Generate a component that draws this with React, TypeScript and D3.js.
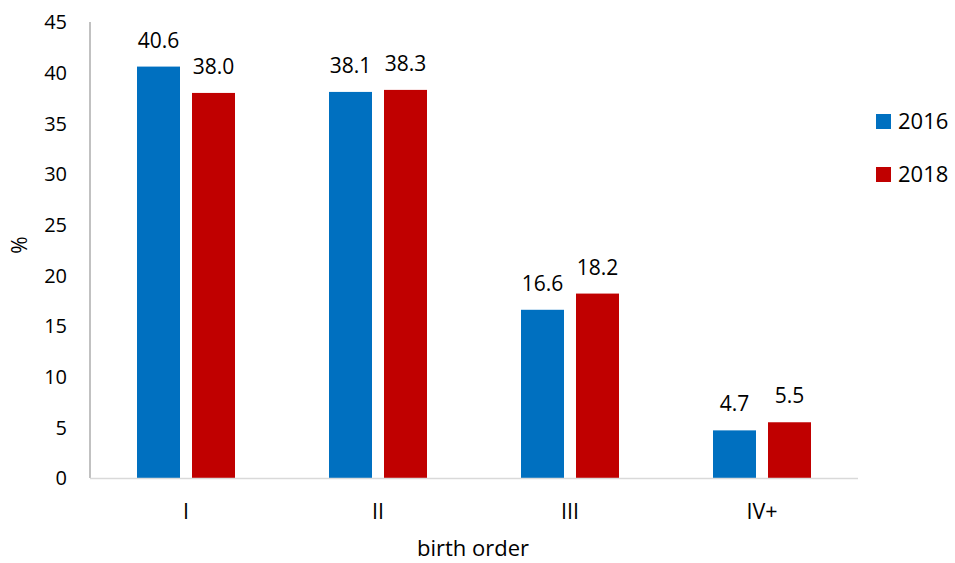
import React from "react";
import * as d3 from "d3";

const categories = ["I", "II", "III", "IV+"];
const seriesNames = ["2016", "2018"];
const values2016 = [40.6, 38.1, 16.6, 4.7];
const values2018 = [38.0, 38.3, 18.2, 5.5];
const seriesColors = ["#0070C0", "#C00000"];
const yTicks = [0, 5, 10, 15, 20, 25, 30, 35, 40, 45];
const yLabel = "%";
const xLabel = "birth order";

const W = 955;
const H = 563;
const FONT = "'Open Sans', 'DejaVu Sans', sans-serif";

export default function App() {
  const x0 = d3.scaleBand<string>().domain(categories).range([90, 858]);
  const x1 = d3.scaleBand<string>().domain(seriesNames).range([47, 145]).paddingInner(0.2182);
  const y = d3.scaleLinear().domain([0, 45]).range([478, 22]);
  const series = [values2016, values2018];

  return (
    <svg width={W} height={H} style={{ position: "absolute", left: 0, top: 0, background: "#fff" }}>
      <rect x={0} y={0} width={W} height={H} fill="#fff" />
      {/* y tick labels */}
      {yTicks.map((t) => (
        <text key={t} x={67} y={y(t)} dy="0.36em" textAnchor="end" fontFamily={FONT} fontSize={20} fill="#000">
          {t}
        </text>
      ))}
      {/* bars */}
      {categories.map((c, ci) => (
        <g key={c} transform={`translate(${x0(c)},0)`}>
          {seriesNames.map((s, si) => {
            const v = series[si][ci];
            return (
              <g key={s}>
                <rect
                  x={x1(s)}
                  y={y(v)}
                  width={x1.bandwidth()}
                  height={y(0) - y(v)}
                  fill={seriesColors[si]}
                />
                <text
                  x={(x1(s) as number) + x1.bandwidth() / 2}
                  y={y(v) - 19}
                  textAnchor="middle"
                  fontFamily={FONT}
                  fontSize={21}
                  fill="#000"
                >
                  {v.toFixed(1)}
                </text>
              </g>
            );
          })}
          <text
            x={x0.bandwidth() / 2}
            y={519}
            textAnchor="middle"
            fontFamily={FONT}
            fontSize={21.5}
            fill="#000"
          >
            {c}
          </text>
        </g>
      ))}
      {/* axes */}
      <line x1={90} x2={90} y1={22} y2={478} stroke="#ADADAD" strokeWidth={1.5} />
      <line x1={90} x2={858} y1={478.5} y2={478.5} stroke="#D9D9D9" strokeWidth={1.5} />
      {/* axis titles */}
      <text x={473} y={556} textAnchor="middle" fontFamily={FONT} fontSize={22} fill="#000">
        {xLabel}
      </text>
      <text
        transform={`translate(27,${245}) rotate(-90)`}
        textAnchor="middle"
        fontFamily={FONT}
        fontSize={21}
        fill="#000"
      >
        {yLabel}
      </text>
      {/* legend */}
      {seriesNames.map((s, i) => (
        <g key={s} transform={`translate(876,${114 + i * 53})`}>
          <rect x={0} y={0} width={15} height={15} fill={seriesColors[i]} />
          <text x={22} y={15} fontFamily={FONT} fontSize={22} fill="#000">
            {s}
          </text>
        </g>
      ))}
    </svg>
  );
}
